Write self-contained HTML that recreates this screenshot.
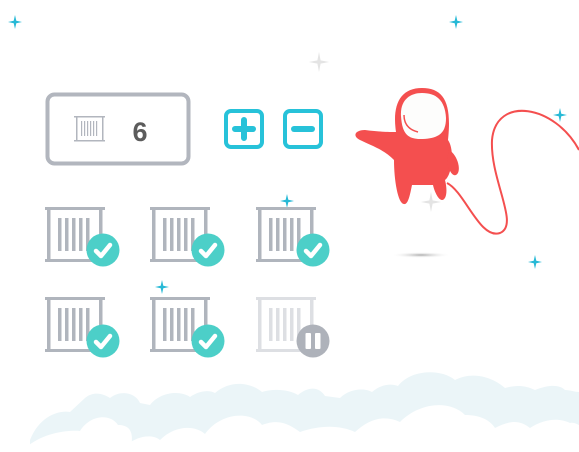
<!DOCTYPE html>
<html><head><style>html,body{margin:0;padding:0;background:#fff;width:579px;height:452px;overflow:hidden}</style></head>
<body>
<svg width="579" height="452" viewBox="0 0 579 452" xmlns="http://www.w3.org/2000/svg">
<defs>
<g id="cont">
 <rect x="0" y="0" width="60" height="3"/>
 <rect x="2" y="0" width="3.5" height="54"/>
 <rect x="54" y="0" width="3.5" height="54"/>
 <rect x="0" y="52" width="60" height="3"/>
 <rect x="13" y="11" width="3.5" height="33"/><rect x="20" y="11" width="3.5" height="33"/><rect x="27" y="11" width="3.5" height="33"/><rect x="34" y="11" width="3.5" height="33"/><rect x="41" y="11" width="3.5" height="33"/>
</g>
<g id="chk">
 <circle cx="0" cy="0" r="16.5" fill="#4ccfc8"/>
 <path d="M-7,1 L-2,6 L7,-5" stroke="#fff" stroke-width="4.5" fill="none" stroke-linecap="round" stroke-linejoin="round"/>
</g>
<g id="spk"><path d="M0,-7 L1.3,-1.3 L7,0 L1.3,1.3 L0,7 L-1.3,1.3 L-7,0 L-1.3,-1.3Z" fill="#27b9d6"/></g>
<g id="spkg"><path d="M0,-10 L1.6,-1.6 L10,0 L1.6,1.6 L0,10 L-1.6,1.6 L-10,0 L-1.6,-1.6Z" fill="#e4e4e4"/></g>
<radialGradient id="sh"><stop offset="0" stop-color="#aaa"/><stop offset="1" stop-color="#fff" stop-opacity="0"/></radialGradient>
</defs>

<!-- clouds -->
<g fill="#ebf5f8">
 <path d="M30,440 C40,415 60,410 70,412 L85,398 C95,390 105,395 110,398 C120,390 135,392 140,403 L150,405 C160,392 180,390 190,397 C200,390 210,390 215,393 C230,380 250,382 262,392 C275,388 290,390 298,395 C310,385 320,388 325,396 L340,398 C350,388 365,388 372,392 C380,385 390,383 398,386 C410,370 440,368 455,380 C470,372 490,375 505,388 C515,385 525,385 535,390 C550,384 560,385 565,390 C570,390 575,392 579,392 L579,452 L30,452Z"/>
</g>
<g fill="#fff">
 <path d="M28,452 L28,446 C45,432 70,430 80,431 C90,415 110,413 118,425 C130,425 135,432 130,452Z"/>
 <path d="M120,452 C130,438 150,432 160,440 C175,425 195,425 205,434 C220,413 250,410 262,425 C280,418 290,425 300,432 C320,425 340,425 355,432 C370,418 385,415 400,422 C420,402 450,400 465,415 C480,415 490,420 495,428 C510,420 520,420 530,428 C545,418 560,418 570,423 C575,422 578,425 579,425 L579,452Z"/>
 <rect x="0" y="0" width="30" height="452"/>
</g>

<!-- sparkles -->
<use href="#spk" x="15" y="22"/>
<use href="#spk" x="456" y="22"/>
<use href="#spk" x="560" y="115"/>
<use href="#spk" x="535" y="262"/>
<use href="#spk" x="287" y="201"/>
<use href="#spk" x="162" y="287"/>
<use href="#spkg" x="319" y="62"/>
<use href="#spkg" x="431" y="202"/>

<!-- counter box -->
<rect x="47.5" y="94.5" width="141" height="69" rx="7" fill="#fff" stroke="#b2b6be" stroke-width="4"/>
<g fill="#b2b6be">
 <rect x="74" y="116" width="31" height="1.5"/><rect x="74" y="140" width="31" height="1.5"/>
 <rect x="76" y="116" width="1.5" height="25"/><rect x="102" y="116" width="1.5" height="25"/>
 <rect x="81" y="121" width="1.2" height="15"/><rect x="84" y="121" width="1.2" height="15"/><rect x="87" y="121" width="1.2" height="15"/><rect x="90" y="121" width="1.2" height="15"/><rect x="93" y="121" width="1.2" height="15"/><rect x="96" y="121" width="1.2" height="15"/>
</g>
<text x="140" y="141" font-family="Liberation Sans, sans-serif" font-size="27" font-weight="bold" fill="#5c5c5c" text-anchor="middle">6</text>

<!-- plus/minus -->
<rect x="226" y="111" width="36" height="36" rx="5" fill="#fff" stroke="#27c2d9" stroke-width="4"/>
<path d="M244,120 V138 M235,129 H253" stroke="#27c2d9" stroke-width="6" stroke-linecap="round"/>
<rect x="285" y="111" width="36" height="36" rx="5" fill="#fff" stroke="#27c2d9" stroke-width="4"/>
<path d="M294,129 H312" stroke="#27c2d9" stroke-width="6" stroke-linecap="round"/>

<!-- containers -->
<g fill="#b0b5bd">
 <use href="#cont" x="45" y="207"/>
 <use href="#cont" x="150" y="207"/>
 <use href="#cont" x="256" y="207"/>
 <use href="#cont" x="45" y="297"/>
 <use href="#cont" x="150" y="297"/>
</g>
<g fill="#dddfe3"><use href="#cont" x="256" y="297"/></g>
<use href="#chk" x="103" y="250"/>
<use href="#chk" x="208" y="250"/>
<use href="#chk" x="313" y="250"/>
<use href="#chk" x="103" y="341"/>
<use href="#chk" x="208" y="341"/>
<circle cx="313" cy="341" r="16.5" fill="#aeb2ba"/>
<rect x="305.5" y="333" width="5.5" height="16" rx="1" fill="#fff"/>
<rect x="315" y="333" width="5.5" height="16" rx="1" fill="#fff"/>

<!-- shadow -->
<ellipse cx="421" cy="255" rx="30" ry="3" fill="url(#sh)"/>

<!-- tether -->
<path d="M447,183 C465,192 480,240 500,233 C520,225 490,180 492,140 C496,95 555,105 579,150" fill="none" stroke="#f44f4f" stroke-width="2"/>

<!-- astronaut -->
<g fill="#f44f4f">
 <path d="M396,132 C392,105 400,88 422,88 C444,88 452,103 448,140 C455,150 452,175 445,180 C448,192 446,200 442,200 C438,200 434,190 433,185 L412,185 C410,195 408,205 404,204 C398,204 394,180 394,160 C385,150 370,145 360,140 C352,136 355,130 365,130 C380,132 390,132 396,132Z"/>
 <path d="M449,150 C458,155 462,172 456,175 C451,177 447,165 447,160Z"/>
</g>
<path d="M401,116 C400,100 410,93 422,93 C436,93 445,100 446,118 C446,132 440,139 420,139 C405,139 402,130 401,116Z" fill="#fdfdfc"/>
<path d="M404,115 C404,125 410,130 418,132" stroke="#f44f4f" stroke-width="1.5" fill="none"/>
</svg>
</body></html>
